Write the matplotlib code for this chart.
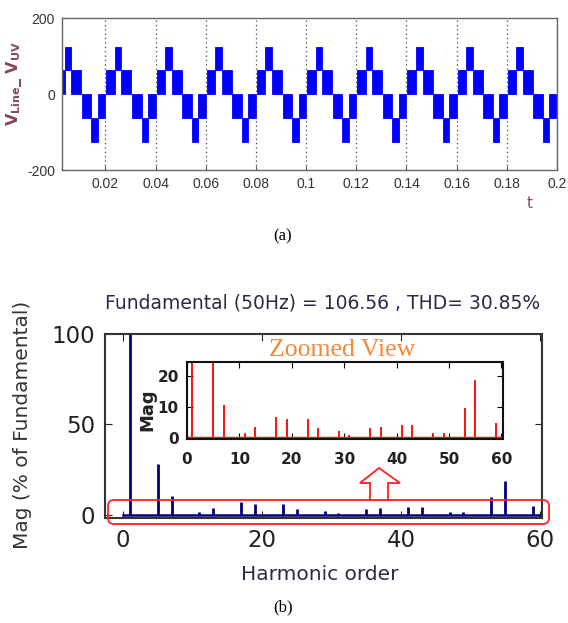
import matplotlib
matplotlib.use('Agg')
import matplotlib.pyplot as plt
from matplotlib import font_manager
from matplotlib.patches import FancyBboxPatch, Polygon
from matplotlib.transforms import Affine2D

# ---------------- data ----------------
# waveform (a): one period described as blocks (fraction of period, volts)
period = 0.02
n_periods = 11
seg_start = [0.02, 0.19, 0.32, 0.53, 0.72, 0.85]
seg_end = [0.19, 0.32, 0.52, 0.72, 0.85, 1.00]
seg_low = [0, 63, 0, -63, -125, -63]
seg_high = [63, 125, 63, 0, -63, 0]
t_ticks = [0.02, 0.04, 0.06, 0.08, 0.1, 0.12, 0.14, 0.16, 0.18, 0.2]
t_labels = ['0.02', '0.04', '0.06', '0.08', '0.1', '0.12', '0.14', '0.16', '0.18', '0.2']
v_ticks = [-200, 0, 200]
v_labels = ['-200', '0', '200']

# spectrum (b)
harm = [1, 5, 7, 11, 13, 17, 19, 23, 25, 29, 31, 35, 37, 41, 43, 47, 49, 53, 55, 59]
mag = [100, 28, 10.5, 1.6, 3.6, 6.9, 6.3, 6.3, 3.1, 2.3, 1.1, 3.1, 3.6, 4.2, 4.2, 1.5, 1.5, 9.8, 18.6, 4.8]
title_b = 'Fundamental (50Hz) = 106.56 , THD= 30.85%'

# ---------------- fonts ----------------
def has_font(name):
    try:
        font_manager.findfont(name, fallback_to_default=False)
        return True
    except Exception:
        return False

narrow = 'Liberation Sans Narrow' if has_font('Liberation Sans Narrow') else 'Liberation Sans'
top_fs = 12 if narrow == 'Liberation Sans Narrow' else 10
plt.rcParams['axes.unicode_minus'] = False

W, H = 568, 623
fig = plt.figure(figsize=(W / 100, H / 100), dpi=100)
pix = Affine2D().scale(1 / W, 1 / H) + fig.transFigure


def fa(l, t, r, b):
    return [l / W, 1 - b / H, (r - l) / W, (b - t) / H]


def ftext(x, y, s, **kw):
    return fig.text(x / W, 1 - y / H, s, **kw)


# ---------------- (a) waveform ----------------
ax1 = fig.add_axes(fa(62, 18, 557, 170))
for k in range(n_periods):
    t0 = k * period
    for s, e, lo, hi in zip(seg_start, seg_end, seg_low, seg_high):
        ax1.fill_between([t0 + s * period, t0 + e * period], lo, hi,
                         color='#0000FF', lw=0.6, edgecolor='#0000FF')
ax1.set_xlim(0.0027, 0.2)
ax1.set_ylim(-200, 200)
ax1.set_xticks(t_ticks)
ax1.set_xticklabels(t_labels, family=narrow, fontsize=top_fs, color='#333333')
ax1.set_yticks(v_ticks)
ax1.set_yticklabels(v_labels, family=narrow, fontsize=top_fs, color='#333333')
ax1.xaxis.grid(True, linestyle=(0, (1, 2.5)), color='#444444', lw=0.9)
ax1.tick_params(direction='in', length=3, pad=5, color='#555555')
for sp in ax1.spines.values():
    sp.set_color('#666666')
    sp.set_linewidth(1.0)

lab_col = '#85475a'
ftext(14, 84, r'$\mathbf{V}_{\mathbf{Line}}\mathbf{\_\ V}_{\mathbf{UV}}$',
      rotation=90, ha='center', va='center', fontsize=11.5, color=lab_col)
ftext(530, 203, 't', ha='center', va='center', fontsize=11,
      color=lab_col, family='DejaVu Sans')
ftext(283, 236, '(a)', ha='center', va='center', fontsize=12, family='Liberation Serif')

# ---------------- (b) spectrum ----------------
navy = '#000080'
ax2 = fig.add_axes(fa(105, 334, 542, 518))
ax2.vlines(harm, 0, mag, color=navy, lw=2.0)
ax2.plot([0, 60], [0, 0], color=navy, lw=1.8)
ax2.set_xlim(-2.6, 60.3)
ax2.set_ylim(-1.7, 100)
ax2.set_xticks([0, 20, 40, 60])
ax2.set_yticks([0, 50, 100])
ax2.tick_params(direction='in', length=5, top=True, right=True,
                labelsize=16.5, labelcolor='#222222', color='#222222')
ax2.tick_params(axis='x', pad=8)
ax2.tick_params(axis='y', pad=7)
for sp in ax2.spines.values():
    sp.set_color('#333333')
    sp.set_linewidth(1.5)

txt_col = '#2a2a4a'
ftext(323, 303, title_b, ha='center', va='center', fontsize=13.5, color=txt_col,
      family='DejaVu Sans')
ftext(320, 575, 'Harmonic order', ha='center', va='center', fontsize=14.5,
      color=txt_col, family='DejaVu Sans')
ftext(23, 425, 'Mag (% of Fundamental)', rotation=90, ha='center', va='center',
      fontsize=14.5, color='#333333', family='DejaVu Sans')
ftext(283, 607, '(b)', ha='center', va='center', fontsize=12, family='Liberation Serif')

# inset zoomed view
ax3 = fig.add_axes(fa(187, 362, 503, 439))
ax3.vlines(harm, 0, mag, color='#FF1010', lw=1.4)
ax3.plot([0, 60], [0, 0], color='#FF1010', lw=2.5)
ax3.set_xlim(0, 60.3)
ax3.set_ylim(-0.3, 24.5)
ax3.set_xticks([0, 10, 20, 30, 40, 50, 60])
ax3.set_yticks([0, 10, 20])
ax3.tick_params(direction='in', length=4, top=True, right=True,
                labelsize=11, labelcolor='#222222')
for lab in ax3.get_xticklabels() + ax3.get_yticklabels():
    lab.set_fontweight('bold')
ax3.tick_params(axis='x', pad=9)
ax3.tick_params(axis='y', pad=6)
for sp in ax3.spines.values():
    sp.set_color('#111111')
    sp.set_linewidth(1.5)
ftext(147, 410, 'Mag', rotation=90, ha='center', va='center', fontsize=13,
      fontweight='bold', color='#222222', family='DejaVu Sans')
ftext(342, 350, 'Zoomed View', ha='center', va='center', fontsize=18.5,
      color='#F4873A', family='Liberation Serif')

# red highlight box and arrow (pixel coordinates, y from top)
box = FancyBboxPatch((108, H - 524), 441, 24,
                     boxstyle='round,pad=0,rounding_size=6',
                     fill=False, edgecolor='#FF2020', lw=1.3,
                     transform=pix, clip_on=False)
fig.patches.append(box)
arrow_pts = [(370, 500), (388, 500), (388, 483), (400, 483), (379, 468), (360, 483), (370, 483)]
arrow = Polygon([(x, H - y) for x, y in arrow_pts], closed=True, facecolor='white',
                edgecolor='#FF2020', lw=1.3, transform=pix)
fig.patches.append(arrow)

fig.savefig('out.png', dpi=100)
